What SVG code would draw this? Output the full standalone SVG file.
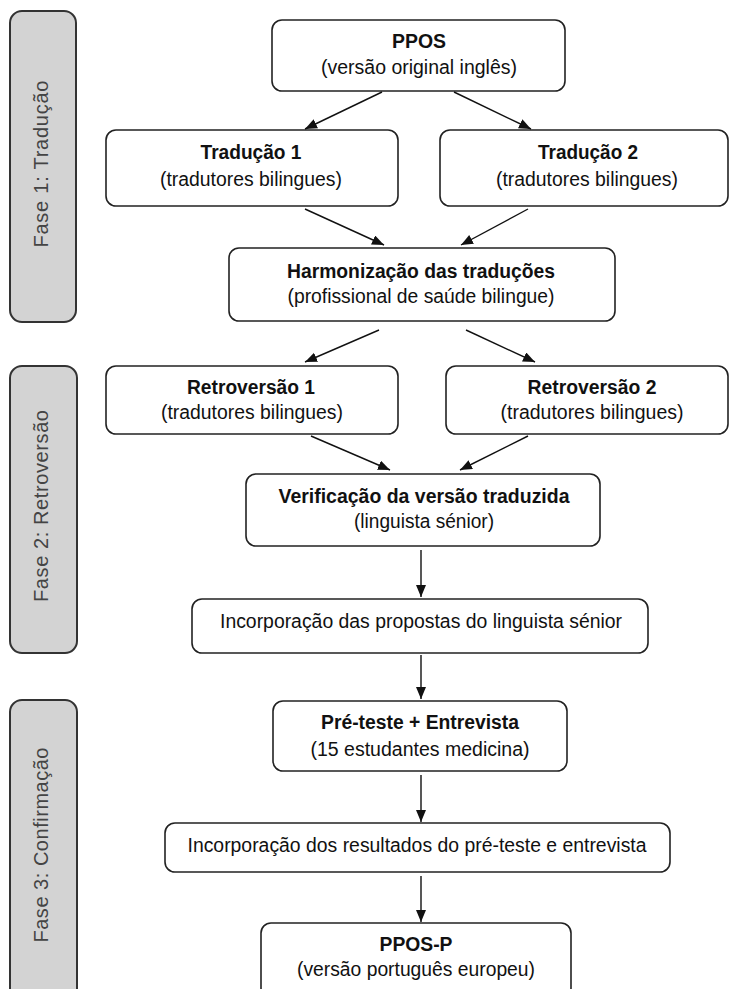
<svg xmlns="http://www.w3.org/2000/svg" width="730" height="989" viewBox="0 0 730 989">
<style>
.phase{fill:#d3d3d3;stroke:#333;stroke-width:2}
.node{fill:#fff;stroke:#222;stroke-width:1.6}
.pt{font-family:"Liberation Sans",Arial,sans-serif;font-size:20px;fill:#444;text-anchor:middle}
.t{font-family:"Liberation Sans Narrow","Liberation Sans",Arial,sans-serif;font-size:20px;fill:#111;text-anchor:middle}
.b{font-weight:bold}
.c{stroke:#111;stroke-width:1.4;fill:none;marker-end:url(#ah)}
</style>
<defs>
<marker id="ah" markerWidth="13" markerHeight="11" refX="12" refY="5" orient="auto" markerUnits="userSpaceOnUse">
<path d="M0,0 L12,5 L0,10 z" fill="#111"/>
</marker>
</defs>
<rect width="730" height="989" fill="#fff"/>
<g id="phase1"><rect class="phase" x="10" y="11" width="66" height="311" rx="12"/>
<text class="pt" transform="translate(48,164) rotate(-90)" textLength="167" lengthAdjust="spacing">Fase 1: Tradução</text></g>
<g id="phase2"><rect class="phase" x="10" y="366" width="67" height="287" rx="12"/>
<text class="pt" transform="translate(48,506) rotate(-90)" textLength="192" lengthAdjust="spacing">Fase 2: Retroversão</text></g>
<g id="phase3"><rect class="phase" x="10" y="700" width="67" height="300" rx="12"/>
<text class="pt" transform="translate(48,845) rotate(-90)" textLength="195" lengthAdjust="spacing">Fase 3: Confirmação</text></g>

<g id="ppos"><rect class="node" x="272" y="20" width="293" height="71" rx="10"/>
<text class="t b" x="419" y="48" textLength="54" lengthAdjust="spacingAndGlyphs">PPOS</text>
<text class="t" x="419" y="74" textLength="196" lengthAdjust="spacingAndGlyphs">(versão original inglês)</text></g>
<g id="trad1"><rect class="node" x="106" y="130" width="292" height="76" rx="10"/>
<text class="t b" x="251" y="159" textLength="101" lengthAdjust="spacingAndGlyphs">Tradução 1</text>
<text class="t" x="251" y="186" textLength="182" lengthAdjust="spacingAndGlyphs">(tradutores bilingues)</text></g>
<g id="trad2"><rect class="node" x="440" y="130" width="288" height="76" rx="10"/>
<text class="t b" x="588" y="159" textLength="100" lengthAdjust="spacingAndGlyphs">Tradução 2</text>
<text class="t" x="587" y="186" textLength="182" lengthAdjust="spacingAndGlyphs">(tradutores bilingues)</text></g>
<g id="harm"><rect class="node" x="229" y="248" width="386" height="73" rx="10"/>
<text class="t b" x="421" y="278" textLength="268" lengthAdjust="spacingAndGlyphs">Harmonização das traduções</text>
<text class="t" x="421" y="303" textLength="267" lengthAdjust="spacingAndGlyphs">(profissional de saúde bilingue)</text></g>
<g id="retro1"><rect class="node" x="106" y="366" width="292" height="68" rx="10"/>
<text class="t b" x="251" y="394" textLength="128" lengthAdjust="spacingAndGlyphs">Retroversão 1</text>
<text class="t" x="252" y="419" textLength="182" lengthAdjust="spacingAndGlyphs">(tradutores bilingues)</text></g>
<g id="retro2"><rect class="node" x="446" y="366" width="282" height="68" rx="10"/>
<text class="t b" x="592" y="394" textLength="129" lengthAdjust="spacingAndGlyphs">Retroversão 2</text>
<text class="t" x="592" y="419" textLength="183" lengthAdjust="spacingAndGlyphs">(tradutores bilingues)</text></g>
<g id="verif"><rect class="node" x="246" y="474" width="354" height="72" rx="10"/>
<text class="t b" x="424" y="503" textLength="291" lengthAdjust="spacingAndGlyphs">Verificação da versão traduzida</text>
<text class="t" x="424" y="528" textLength="140" lengthAdjust="spacingAndGlyphs">(linguista sénior)</text></g>
<g id="incorp1"><rect class="node" x="192" y="599" width="456" height="54" rx="10"/>
<text class="t" x="421" y="628" textLength="402" lengthAdjust="spacingAndGlyphs">Incorporação das propostas do linguista sénior</text></g>
<g id="preteste"><rect class="node" x="273" y="701" width="294" height="70" rx="10"/>
<text class="t b" x="420" y="729" textLength="198" lengthAdjust="spacingAndGlyphs">Pré-teste + Entrevista</text>
<text class="t" x="420" y="756" textLength="219" lengthAdjust="spacingAndGlyphs">(15 estudantes medicina)</text></g>
<g id="incorp2"><rect class="node" x="165" y="823" width="505" height="49" rx="10"/>
<text class="t" x="417" y="852" textLength="459" lengthAdjust="spacingAndGlyphs">Incorporação dos resultados do pré-teste e entrevista</text></g>
<g id="pposp"><rect class="node" x="261" y="923" width="310" height="75" rx="10"/>
<text class="t b" x="416" y="951" textLength="73" lengthAdjust="spacingAndGlyphs">PPOS-P</text>
<text class="t" x="416" y="976" textLength="238" lengthAdjust="spacingAndGlyphs">(versão português europeu)</text></g>

<g id="connectors">
<line class="c" x1="382" y1="92" x2="305" y2="129"/>
<line class="c" x1="454" y1="92" x2="531" y2="129"/>
<line class="c" x1="305" y1="209" x2="384" y2="245"/>
<line class="c" x1="528" y1="209" x2="461" y2="245"/>
<line class="c" x1="379" y1="330" x2="305" y2="362"/>
<line class="c" x1="466" y1="330" x2="535" y2="362"/>
<line class="c" x1="311" y1="436" x2="390" y2="470"/>
<line class="c" x1="528" y1="436" x2="460" y2="470"/>
<line class="c" x1="421" y1="550" x2="421" y2="597"/>
<line class="c" x1="421" y1="655" x2="421" y2="699"/>
<line class="c" x1="421" y1="775" x2="421" y2="822"/>
<line class="c" x1="421" y1="876" x2="421" y2="922"/>
</g>
</svg>
